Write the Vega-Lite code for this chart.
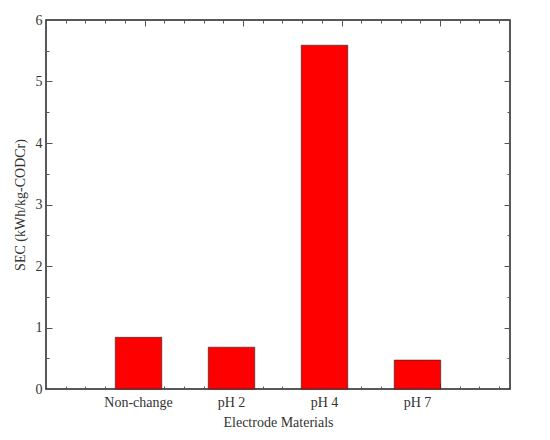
{
  "$schema": "https://vega.github.io/schema/vega-lite/v6.json",
  "autosize": "none",
  "width": 464,
  "height": 369,
  "padding": {"left": 46, "top": 20, "right": 40, "bottom": 51},
  "background": "white",
  "config": {
    "view": {"stroke": "#222", "strokeWidth": 1.5},
    "font": "Liberation Serif",
    "axis": {
      "labelFont": "Liberation Serif",
      "titleFont": "Liberation Serif",
      "labelFontSize": 14,
      "titleFontSize": 14,
      "labelColor": "#333",
      "titleColor": "#333",
      "titleFontWeight": "normal",
      "domain": false,
      "grid": false,
      "tickColor": "#555"
    }
  },
  "data": {
    "values": [
      {"material": "Non-change", "sec": 0.84},
      {"material": "pH 2", "sec": 0.68},
      {"material": "pH 4", "sec": 5.59},
      {"material": "pH 7", "sec": 0.47}
    ]
  },
  "layer": [
    {
      "mark": {"type": "bar", "color": "#ff0000", "stroke": "#222", "strokeWidth": 0.6},
      "encoding": {
        "x": {
          "field": "material",
          "type": "nominal",
          "sort": null,
          "scale": {"paddingInner": 0.5, "paddingOuter": 0.745},
          "axis": {
            "title": "Electrode Materials",
            "labelAngle": 0,
            "ticks": false,
            "labelPadding": 6,
            "titlePadding": 6
          }
        },
        "y": {
          "field": "sec",
          "type": "quantitative",
          "scale": {"domain": [0, 6], "nice": false},
          "axis": {
            "title": "SEC (kWh/kg-CODCr)",
            "values": [0, 0.5, 1, 1.5, 2, 2.5, 3, 3.5, 4, 4.5, 5, 5.5, 6],
            "labelExpr": "datum.value % 1 === 0 ? format(datum.value, 'd') : ''",
            "tickSize": {"condition": {"test": "datum.value % 1 === 0", "value": -6}, "value": -3},
            "labelPadding": 10,
            "titlePadding": 8
          }
        }
      }
    },
    {
      "mark": {"type": "rule", "opacity": 0},
      "encoding": {
        "y": {
          "datum": 0,
          "type": "quantitative",
          "axis": {
            "orient": "right",
            "title": null,
            "labels": false,
            "values": [0, 0.5, 1, 1.5, 2, 2.5, 3, 3.5, 4, 4.5, 5, 5.5, 6],
            "tickSize": {"condition": {"test": "datum.value % 1 === 0", "value": -6}, "value": -3}
          }
        }
      }
    },
    {
      "mark": {"type": "rule", "opacity": 0},
      "encoding": {
        "x": {
          "datum": 0,
          "type": "quantitative",
          "scale": {"domain": [0, 4.71], "nice": false, "zero": false},
          "axis": {
            "orient": "bottom",
            "title": null,
            "labels": false,
            "values": [0.2, 0.4, 0.6, 0.8, 1, 1.2, 1.4, 1.6, 1.8, 2, 2.2, 2.4, 2.6, 2.8, 3, 3.2, 3.4, 3.6, 3.8, 4, 4.2, 4.4, 4.6],
            "tickSize": {"condition": {"test": "abs(datum.value - round(datum.value)) < 0.01", "value": -6}, "value": -3}
          }
        }
      }
    },
    {
      "mark": {"type": "rule", "opacity": 0},
      "encoding": {
        "x": {
          "datum": 0,
          "type": "quantitative",
          "scale": {"domain": [0, 4.71], "nice": false, "zero": false},
          "axis": {
            "orient": "top",
            "title": null,
            "labels": false,
            "values": [0.2, 0.4, 0.6, 0.8, 1, 1.2, 1.4, 1.6, 1.8, 2, 2.2, 2.4, 2.6, 2.8, 3, 3.2, 3.4, 3.6, 3.8, 4, 4.2, 4.4, 4.6],
            "tickSize": {"condition": {"test": "abs(datum.value - round(datum.value)) < 0.01", "value": -6}, "value": -3}
          }
        }
      }
    }
  ],
  "resolve": {"scale": {"x": "independent"}, "axis": {"x": "independent", "y": "independent"}}
}
